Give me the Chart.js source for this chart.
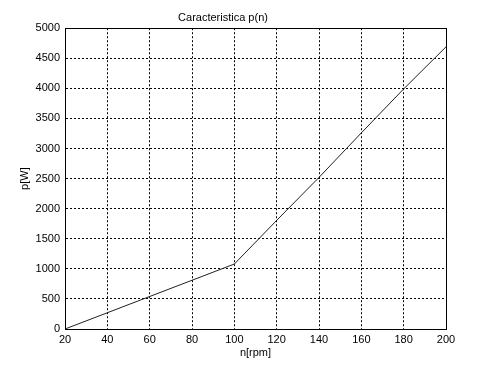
<!DOCTYPE html>
<html lang="it">
  <head>
    <meta charset="UTF-8" />
    <title>Caracteristica p(n)</title>
    <script src="https://cdn.jsdelivr.net/npm/chart.js@4.4.1/dist/chart.umd.min.js"></script>
    <style>
      body { margin: 0; background: #fff; }
      canvas { display: block; }
    </style>
  </head>
  <body>
    <canvas id="chart" width="492" height="369"></canvas>
    <script>
      // valori
      const n = [20, 40, 60, 80, 100, 120, 140, 160, 180, 200];
      const p = [0, 270, 540, 810, 1080, 1805, 2520, 3260, 3990, 4690];
      const xTicks = [20, 40, 60, 80, 100, 120, 140, 160, 180, 200];
      const yTicks = [0, 500, 1000, 1500, 2000, 2500, 3000, 3500, 4000, 4500, 5000];

      const font = { family: "'Liberation Sans', Arial, sans-serif", size: 11, lineHeight: 1.2, weight: "normal" };

      // cornice nera attorno all'area del grafico
      const boxPlugin = {
        id: "box",
        afterDraw(chart) {
          const { ctx, chartArea: a } = chart;
          ctx.save();
          ctx.strokeStyle = "#000";
          ctx.lineWidth = 1;
          ctx.strokeRect(Math.round(a.left) + 0.5, Math.round(a.top) + 0.5,
            Math.round(a.right - a.left), Math.round(a.bottom - a.top));
          ctx.restore();
        },
      };

      const ctx = document.getElementById("chart").getContext("2d");
      new Chart(ctx, {
        type: "line",
        data: {
          datasets: [
            {
              data: n.map((v, i) => ({ x: v, y: p[i] })),
              borderColor: "#222",
              borderWidth: 1,
              pointRadius: 0,
              tension: 0,
              fill: false,
            },
          ],
        },
        options: {
          responsive: false,
          animation: false,
          layout: { padding: { left: 0, right: 46, top: 0, bottom: 0 } },
          plugins: {
            legend: { display: false },
            tooltip: { enabled: false },
            title: {
              display: true,
              text: "Caracteristica p(n)",
              color: "#000",
              font: font,
              padding: { top: 11, bottom: 4 },
            },
          },
          scales: {
            x: {
              type: "linear",
              min: 20,
              max: 200,
              afterFit: (s) => { s.height = 40; },
              afterBuildTicks: (s) => { s.ticks = xTicks.map((v) => ({ value: v })); },
              ticks: { color: "#000", font: font, padding: 4, maxRotation: 0, callback: (v) => String(v) },
              grid: { color: "#000", drawTicks: false, lineWidth: 1 },
              border: { display: true, color: "#000", dash: [2, 2] },
              title: { display: true, text: "n[rpm]", color: "#000", font: font, padding: { top: 0, bottom: 9 } },
            },
            y: {
              min: 0,
              max: 5000,
              afterFit: (s) => { s.width = 65; },
              afterBuildTicks: (s) => { s.ticks = yTicks.map((v) => ({ value: v })); },
              ticks: { color: "#000", font: font, padding: 5, callback: (v) => String(v) },
              grid: { color: "#000", drawTicks: false, lineWidth: 1 },
              border: { display: true, color: "#000", dash: [2, 2] },
              title: { display: true, text: "p[W]", color: "#000", font: font, padding: { top: 18, bottom: 0 } },
            },
          },
        },
        plugins: [boxPlugin],
      });
    </script>
  </body>
</html>
